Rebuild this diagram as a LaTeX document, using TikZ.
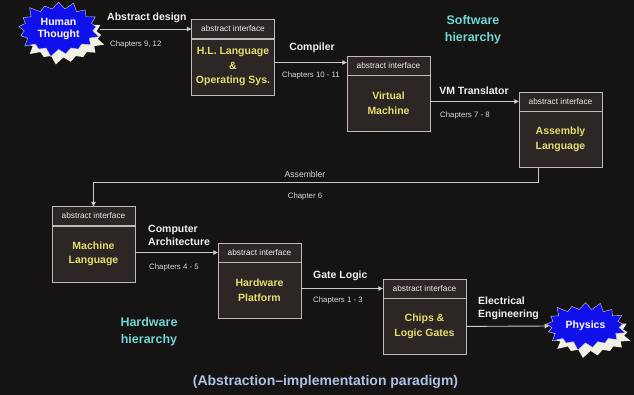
\documentclass[tikz,border=0pt]{standalone}
\usepackage{fontspec}
\setmainfont{Liberation Sans}
\usepackage{tikz}
\usetikzlibrary{arrows.meta,positioning,shapes.symbols,shadows}
\definecolor{bgdark}{RGB}{22,20,19}
\definecolor{boxfill}{RGB}{44,39,36}
\definecolor{boxline}{RGB}{190,187,182}
\definecolor{txtyellow}{RGB}{228,222,110}
\definecolor{txtcyan}{RGB}{110,214,214}
\definecolor{txtblue}{RGB}{168,196,226}
\definecolor{starblue}{RGB}{16,16,235}
\definecolor{starshade}{RGB}{242,240,226}

\begin{document}
\begin{tikzpicture}[x=1pt,y=-1pt,
  hdr/.style={draw=boxline,fill=boxfill,minimum width=83pt,minimum height=19pt,inner sep=0pt,
    font=\fontsize{8.3}{10}\selectfont,text=white!92!black},
  body/.style={draw=boxline,fill=boxfill,minimum width=83pt,minimum height=56pt,inner sep=0pt,
    align=center,font=\fontsize{10.5}{14.5}\selectfont\bfseries,text=txtyellow},
  lbl/.style={font=\fontsize{10.5}{12.7}\selectfont\bfseries,text=white!94!black,align=left,inner sep=0pt},
  chap/.style={font=\fontsize{7.8}{9}\selectfont,text=white!85!black,inner sep=0pt},
  burst/.style={starburst,starburst points=17,starburst point height=9pt,draw=white!80!black,
    fill=starblue,text=white,font=\fontsize{10.5}{12.7}\selectfont\bfseries,align=center,
    drop shadow={fill=starshade,opacity=1,shadow xshift=5pt,shadow yshift=-8pt}},
  hier/.style={font=\fontsize{12.5}{17}\selectfont\bfseries,text=txtcyan,align=center},
  arr/.style={-{Triangle[length=4.5pt,width=4.5pt]},draw=white!80!black,line width=0.9pt}
]
  \pgfmathsetseed{7}
  \useasboundingbox (0,0) rectangle (634,395);
  \fill[bgdark] (0,0) rectangle (634,395);
  % Ends
  \node[burst,minimum width=64pt,minimum height=33pt] (human) at (58.5,29) {Human\\Thought};
  \node[burst,inner xsep=4pt,inner ysep=7pt] (physics) at (585.5,326) {Physics};
  % Software levels
  \node[hdr] (hlh) at (233,29) {abstract interface};
  \node[body,below=0pt of hlh] (hl) {H.L. Language\\\&\\Operating Sys.};
  \node[hdr] (vmh) at (388.5,65.5) {abstract interface};
  \node[body,below=0pt of vmh] (vm) {Virtual\\Machine};
  \node[hdr] (asmh) at (560.5,101.5) {abstract interface};
  \node[body,below=0pt of asmh] (asm) {Assembly\\Language};
  % Hardware levels
  \node[hdr] (mlh) at (93.5,216) {abstract interface};
  \node[body,below=0pt of mlh] (ml) {Machine\\Language};
  \node[hdr] (hwh) at (259.5,252.5) {abstract interface};
  \node[body,below=0pt of hwh] (hw) {Hardware\\Platform};
  \node[hdr] (chh) at (424.5,288.5) {abstract interface};
  \node[body,below=0pt of chh] (chips) {Chips \&\\Logic Gates};
  % Arrows
  \coordinate (asmbend) at (0,182);
  \draw[arr,shorten <=5pt] (human.east |- hlh.west) -- (hlh.west);
  \draw[arr] ([yshift=3pt]hl.east |- vmh.west) -- ([yshift=3pt]vmh.west);
  \draw[arr] (vm.east |- asmh.west) -- (asmh.west);
  \draw[arr] ([xshift=-22pt]asm.south) |- (mlh.north |- asmbend) -- (mlh.north);
  \draw[arr] (ml.east |- hwh.west) -- (hwh.west);
  \draw[arr] (hw.east |- chh.west) -- (chh.west);
  \draw[arr] (chips.east) -- (physics.west);
  % Labels
  \node[lbl,anchor=west] (adl) at (107,18) {Abstract design};
  \node[chap,anchor=west] (adc) at (110,44.5) {Chapters 9, 12};
  \node[lbl] (cpl) at (312,48) {Compiler};
  \node[chap] (cpc) at (311,75) {Chapters 10 - 11};
  \node[lbl] (vtl) at (474,90.5) {VM Translator};
  \node[chap,anchor=west] (vtc) at (440,115) {Chapters 7 - 8};
  \node[chap,font=\fontsize{8.6}{10}\selectfont] (asl) at (305,174) {Assembler};
  \node[chap] (asc) at (305,196) {Chapter 6};
  \node[lbl,anchor=west] (cal) at (148,235.5) {Computer\\Architecture};
  \node[chap,anchor=west] (cac) at (149,267.7) {Chapters 4 - 5};
  \node[lbl,anchor=west] (gll) at (313,275.7) {Gate Logic};
  \node[chap,anchor=west] (glc) at (313,300.7) {Chapters 1 - 3};
  \node[lbl,anchor=west] (eel) at (478,308.5) {Electrical\\Engineering};
  \node[hier] (swh) at (473,29.5) {Software\\hierarchy};
  \node[hier] (hwhier) at (149,332) {Hardware\\hierarchy};
  \node[font=\fontsize{14}{16}\selectfont\bfseries,text=txtblue] (para) at (325.5,382)
    {(Abstraction\textendash implementation paradigm)};
\end{tikzpicture}
\end{document}
